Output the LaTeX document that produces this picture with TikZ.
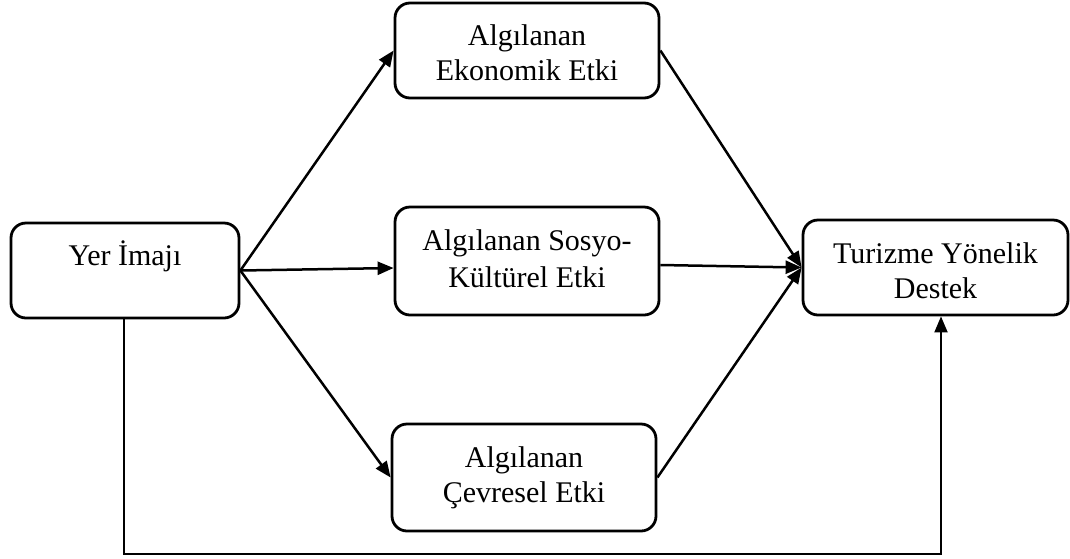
\documentclass[tikz,border=0pt]{standalone}
\usepackage{fontspec}
\setmainfont{Liberation Serif}
\usetikzlibrary{arrows.meta}
\begin{document}
\begin{tikzpicture}[x=1pt,y=-1pt,
  box/.style={draw, line width=2.8pt, rounded corners=15pt, inner sep=0pt},
  txt/.style={anchor=base, inner sep=0pt, font=\fontsize{30}{35}\selectfont},
  link/.style={line width=2.5pt, -{Triangle[length=16pt,width=13pt]}},
  direct/.style={line width=2pt, -{Triangle[length=16pt,width=13pt]}}]
\useasboundingbox (0,0) rectangle (1070,558);

% boxes
\node[box, minimum width=228pt, minimum height=95pt] (yer) at (125,270.5) {};
\node[box, minimum width=264pt, minimum height=95pt] (eko) at (527,50.5) {};
\node[box, minimum width=264pt, minimum height=108pt] (sos) at (527,261) {};
\node[box, minimum width=264pt, minimum height=107pt] (cev) at (524,477.5) {};
\node[box, minimum width=265pt, minimum height=95pt] (tur) at (935.5,267.5) {};

% labels
\node[txt] (yerA) at (125,265) {Yer İmajı};
\node[txt] (ekoA) at (527,45) {Algılanan};
\node[txt] (ekoB) at (527,80) {Ekonomik Etki};
\node[txt] (sosA) at (527,250) {Algılanan Sosyo-};
\node[txt] (sosB) at (527,287) {Kültürel Etki};
\node[txt] (cevA) at (524,467) {Algılanan};
\node[txt] (cevB) at (524,502) {Çevresel Etki};
\node[txt] (turA) at (935.5,263) {Turizme Yönelik};
\node[txt] (turB) at (935.5,298) {Destek};

% paths from the place image
\draw[link] (yer.east) -- (eko.west);
\draw[link] (yer.east) -- ([yshift=-7pt]sos.west);
\draw[link] (yer.east) -- (cev.west);

% paths to the support for tourism
\draw[link] (eko.east) -- (tur.west);
\draw[link] ([yshift=-4pt]sos.east) -- (tur.west);
\draw[link] (cev.east) -- (tur.west);

% direct effect
\coordinate (src) at ([xshift=-1pt]yer.south);
\coordinate (dst) at ([xshift=5.5pt]tur.south);
\coordinate (low) at (0,554);
\draw[direct] (src) |- (low -| dst) -- (dst);
\end{tikzpicture}
\end{document}
